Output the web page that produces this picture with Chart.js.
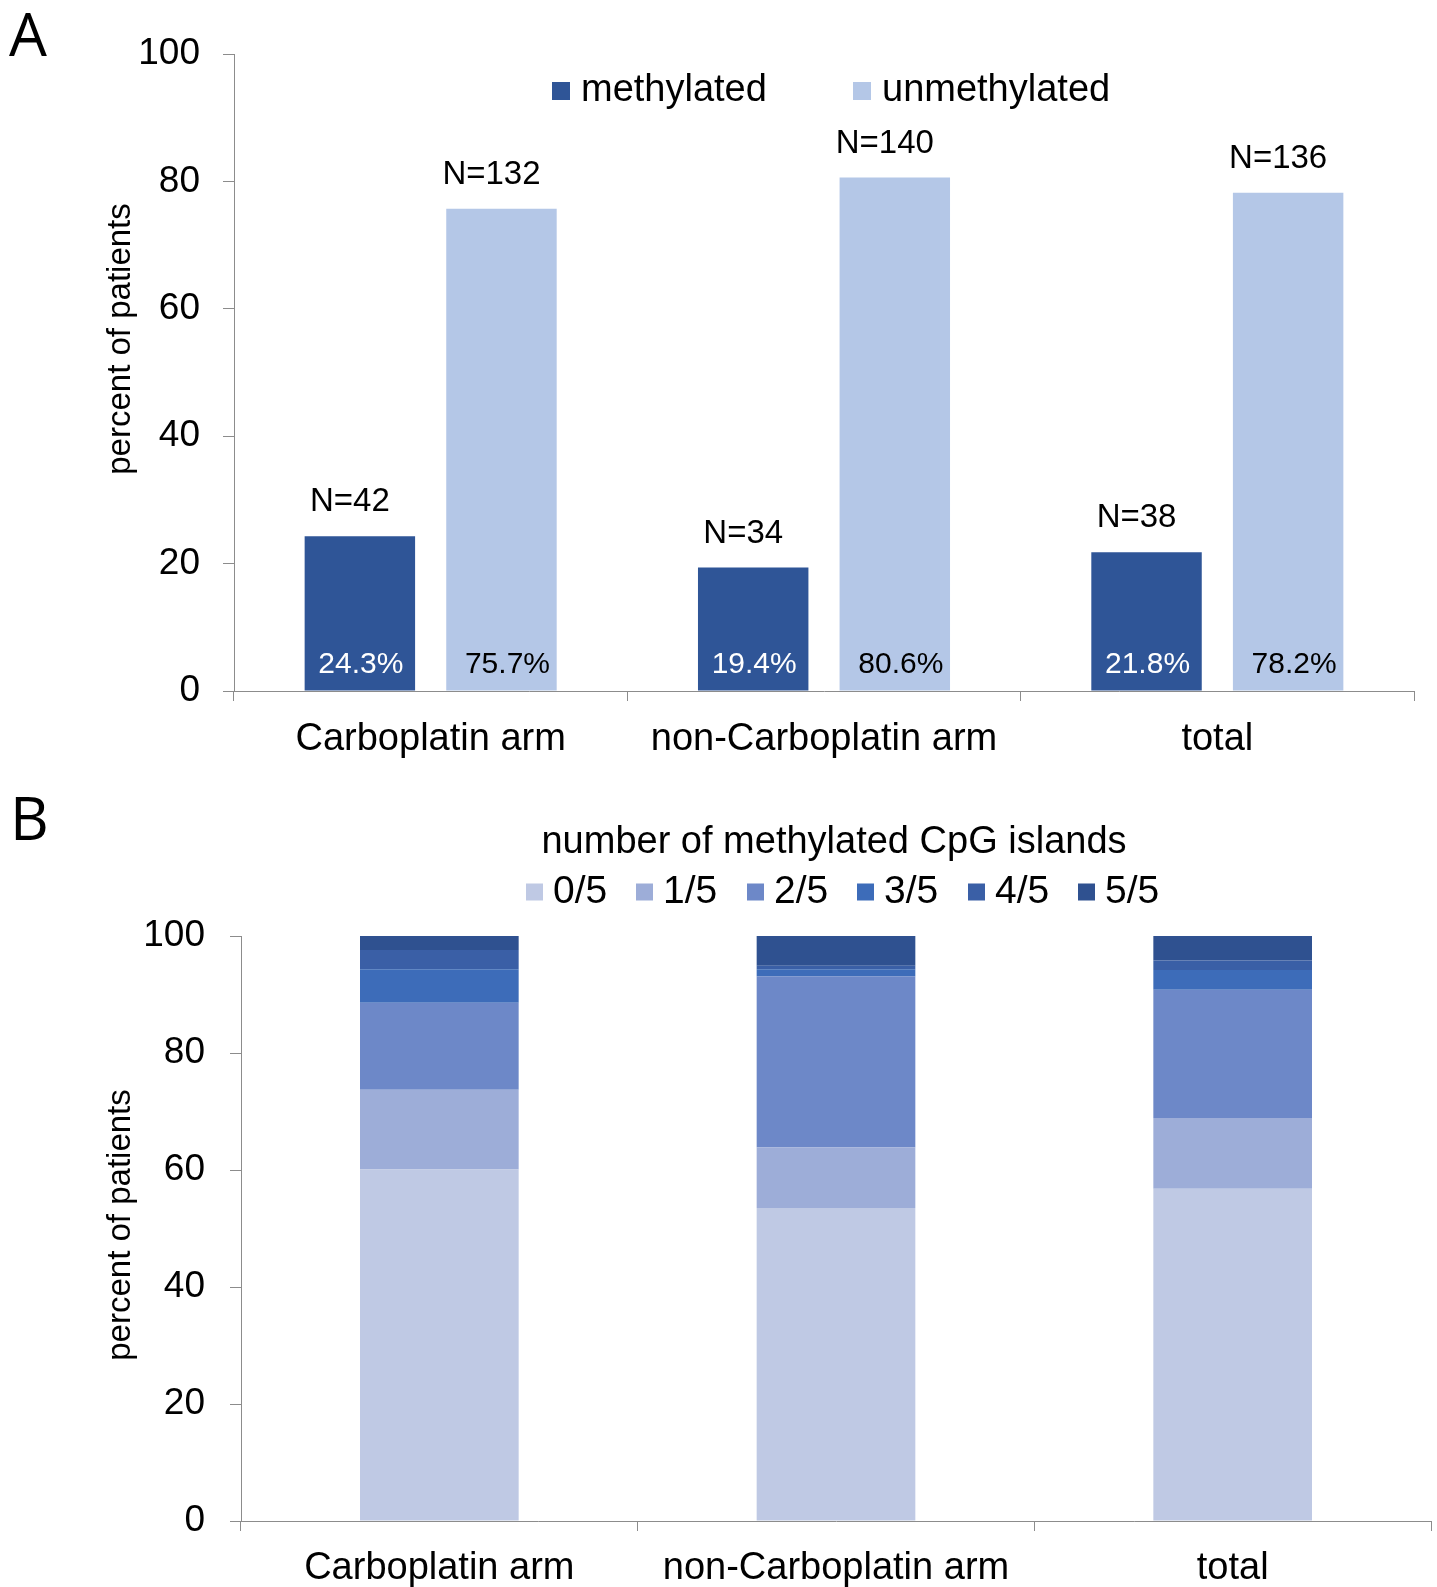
<!DOCTYPE html>
<html>
<head>
<meta charset="utf-8">
<script src="https://cdn.jsdelivr.net/npm/chart.js@4.4.1/dist/chart.umd.min.js"></script>
<style>
  html, body { margin: 0; padding: 0; background: #fff; }
  body { width: 1437px; height: 1587px; overflow: hidden; }
  canvas { display: block; }
</style>
</head>
<body>
<canvas id="chartA" width="1437" height="770"></canvas>
<canvas id="chartB" width="1437" height="817"></canvas>
<script>
'use strict';

const categories = ['Carboplatin arm', 'non-Carboplatin arm', 'total'];
const yTicks = [0, 20, 40, 60, 80, 100];

// panel A: methylation status (percent of patients)
const methylated = [24.3, 19.4, 21.8];
const unmethylated = [75.7, 80.6, 78.2];
const nMethylated = [42, 34, 38];
const nUnmethylated = [132, 140, 136];

// panel B: number of methylated CpG islands (percent of patients)
const cpgLabels = ['0/5', '1/5', '2/5', '3/5', '4/5', '5/5'];
const cpg0 = [60.1, 53.5, 56.8];
const cpg1 = [13.6, 10.4, 12.1];
const cpg2 = [14.9, 29.2, 21.9];
const cpg3 = [5.7, 1.2, 3.4];
const cpg4 = [3.3, 0.6, 1.6];
const cpg5 = [2.4, 5.1, 4.2];

const FONT = '"Liberation Sans", Arial, sans-serif';
const AXIS_GRAY = '#8c8c8c';
const cpgColors = ['#bfc9e4', '#9dadd8', '#6d88c8', '#3d6cb9', '#3a5fa6', '#2f5190'];

Chart.defaults.font.family = FONT;
Chart.defaults.color = '#000';

function yScale ( width, tickLen, pad ) {
  return {
    min: 0,
    max: 100,
    afterBuildTicks: s => { s.ticks = yTicks.map( v => ( { value: v } ) ); },
    grid: { drawOnChartArea: false, tickLength: tickLen, color: AXIS_GRAY },
    border: { color: AXIS_GRAY },
    ticks: { font: { size: 37 }, color: '#000', padding: pad },
    afterFit: s => { s.width = width; }
  };
}

function xScale ( height, stacked, pad ) {
  return {
    stacked: stacked,
    grid: { drawOnChartArea: false, tickLength: 10, color: AXIS_GRAY },
    border: { color: AXIS_GRAY },
    ticks: { font: { size: 38 }, color: '#000', padding: pad, maxRotation: 0, autoSkip: false },
    afterFit: s => { s.height = height; }
  };
}

// panel letter, rotated y title, hand made legend
function decor ( opts ) {
  return {
    id: 'decor',
    afterDraw( chart ) {
      const ctx = chart.ctx;
      ctx.save();
      ctx.fillStyle = '#000';
      ctx.font = '60px "Open Sans", ' + FONT;
      ctx.textAlign = 'left';
      ctx.textBaseline = 'alphabetic';
      ctx.fillText( opts.letter, opts.letterX, opts.letterY );

      ctx.save();
      ctx.translate( 121, opts.titleY );
      ctx.rotate( -Math.PI / 2 );
      ctx.font = '33px ' + FONT;
      ctx.textAlign = 'center';
      ctx.textBaseline = 'middle';
      ctx.fillText( 'percent of patients', 0, 0 );
      ctx.restore();

      if ( opts.legendTitle ) {
        ctx.font = '38px ' + FONT;
        ctx.textAlign = 'center';
        ctx.textBaseline = 'middle';
        ctx.fillText( opts.legendTitle, opts.legendTitleX, opts.legendTitleY );
      }
      ctx.font = opts.legendFont + 'px ' + FONT;
      ctx.textAlign = 'left';
      ctx.textBaseline = 'middle';
      chart.data.datasets.forEach( ( ds, i ) => {
        const x = opts.legendX[i];
        const y = opts.legendY;
        ctx.fillStyle = ds.backgroundColor;
        ctx.fillRect( x, y - opts.box / 2, opts.box, opts.box );
        ctx.fillStyle = '#000';
        ctx.fillText( ds.label, x + opts.box + opts.gap, y );
      } );
      ctx.restore();
    }
  };
}

const barLabels = {
  id: 'barLabels',
  afterDatasetsDraw( chart ) {
    const ctx = chart.ctx;
    ctx.save();
    ctx.textAlign = 'center';
    ctx.textBaseline = 'middle';
    chart.data.datasets.forEach( ( ds, di ) => {
      const meta = chart.getDatasetMeta( di );
      meta.data.forEach( ( bar, i ) => {
        ctx.font = '33px ' + FONT;
        ctx.fillStyle = '#000';
        ctx.fillText( 'N=' + ds.counts[i], bar.x - 10, bar.y - 34 );
        ctx.font = '30px ' + FONT;
        ctx.fillStyle = ds.pctColor;
        ctx.fillText( ds.data[i].toFixed( 1 ) + '%', bar.x + ds.pctShift, bar.base - 26 );
      } );
    } );
    ctx.restore();
  }
};

new Chart( document.getElementById( 'chartA' ), {
  type: 'bar',
  data: {
    labels: categories,
    datasets: [{
      label: 'methylated',
      data: methylated,
      counts: nMethylated,
      pctColor: '#fff',
      pctShift: 1,
      backgroundColor: '#2f5597',
      categoryPercentage: 0.72,
      barPercentage: 0.78
    }, {
      label: 'unmethylated',
      data: unmethylated,
      counts: nUnmethylated,
      pctColor: '#000',
      pctShift: 6,
      backgroundColor: '#b4c7e7',
      categoryPercentage: 0.72,
      barPercentage: 0.78
    }]
  },
  options: {
    responsive: false,
    animation: false,
    layout: { padding: { top: 54, right: 23, left: 0, bottom: 0 } },
    plugins: { legend: { display: false }, tooltip: { enabled: false } },
    scales: { x: xScale( 79, false, 16 ), y: yScale( 234, 11, 23 ) }
  },
  plugins: [ barLabels, decor( {
    letter: 'A', letterX: 9, letterY: 56,
    titleY: 339,
    legendFont: 38, legendX: [552, 853], legendY: 91, box: 18, gap: 11
  } ) ]
} );

const cpgData = [cpg0, cpg1, cpg2, cpg3, cpg4, cpg5];

new Chart( document.getElementById( 'chartB' ), {
  type: 'bar',
  data: {
    labels: categories,
    datasets: cpgData.map( ( d, i ) => ( {
      label: cpgLabels[i],
      data: d,
      backgroundColor: cpgColors[i],
      categoryPercentage: 0.8,
      barPercentage: 0.5
    } ) )
  },
  options: {
    responsive: false,
    animation: false,
    layout: { padding: { top: 166, right: 6, left: 0, bottom: 0 } },
    plugins: { legend: { display: false }, tooltip: { enabled: false } },
    scales: { x: xScale( 66, true, 15 ), y: Object.assign( yScale( 241, 11, 25 ), { stacked: true } ) }
  },
  plugins: [ decor( {
    letter: 'B', letterX: 10, letterY: 70,
    titleY: 455,
    legendTitle: 'number of methylated CpG islands', legendTitleX: 834, legendTitleY: 73,
    legendFont: 39, legendX: [526, 636, 747, 857, 968, 1078], legendY: 122, box: 17, gap: 10
  } ) ]
} );
</script>
</body>
</html>
